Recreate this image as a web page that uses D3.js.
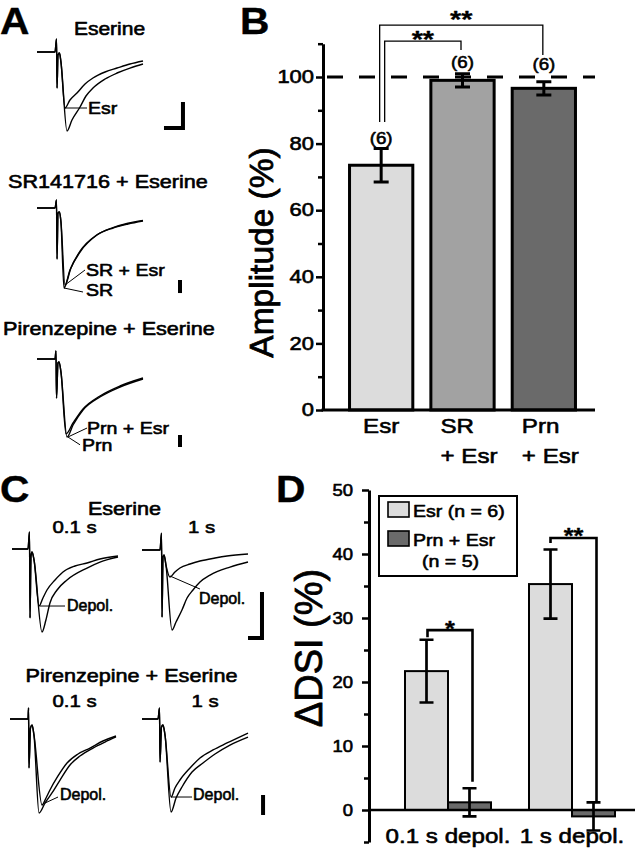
<!DOCTYPE html>
<html><head><meta charset="utf-8">
<script src="https://cdn.jsdelivr.net/npm/d3@7"></script>
<style>html,body{margin:0;padding:0;background:#fff}svg{display:block}</style>
</head><body><div id="chart"></div>
<script>
// ================= DATA =================
// Panel B: amplitude (% of control)
const bCategories = [["Esr"], ["SR", "+ Esr"], ["Prn", "+ Esr"]];
const bValues = [73.5, 99.0, 96.6];
const bErrors = [5.0, 2.0, 2.0];
const bN = ["(6)", "(6)", "(6)"];
const bTicks = [0, 20, 40, 60, 80, 100];
const bMinorTicks = [10, 30, 50, 70, 90, 110];
const bReference = 100;
const bSignificance = [
  {from: 0, to: 2, label: "**", level: 115.6, fromEnd: 86.5, toEnd: 106.6},
  {from: 0, to: 1, label: "**", level: 110.8, fromEnd: 86.5, toEnd: 108.1}
];

// Panel D: ΔDSI (%)
const dGroups = ["0.1 s depol.", "1 s depol."];
const dSeries = ["Esr", "Prn + Esr"];
const dLegend = [["Esr (n = 6)"], ["Prn + Esr", "(n = 5)"]];
const dEsr = [21.7, 35.3];
const dEsrErr = [4.9, 5.4];
const dPrn = [1.2, -1.0];
const dPrnErr = [2.2, 2.2];
const dTicks = [0, 10, 20, 30, 40, 50];
const dMinorTicks = [-5, 5, 15, 25, 35, 45];
const dSignificance = [
  {group: 0, label: "*", level: 28.1, leftEnd: 27.0, rightEnd: 4.4},
  {group: 1, label: "**", level: 42.5, leftEnd: 41.7, rightEnd: 1.3}
];

// Traces: [time (ms, 0-100 window), current (% of control peak)]
const a1Stim = [[0,0],[17,0],[18.4,16.5],[18.9,-45.6],[19.8,-3.8],[21.2,-1.3],[22.6,-12.7]];
const a1Control = [[28.3,-100],[33,-86],[40.6,-69.6],[46.2,-55.7],[52.8,-45.6],[64.2,-34.2],[75.5,-26.6],[87.7,-20.3],[100,-15.2]];
const a1Esr = [[26.4,-70.9],[31.1,-60.8],[37.7,-51.9],[45.3,-40.5],[52.8,-32.9],[64.2,-25.3],[75.5,-20.3],[87.7,-15.2],[100,-11.4]];

const a2Stim = [[0,0],[17,0],[18.4,10],[18.9,-63.8],[19.8,-6.3],[21.2,-5],[22.6,-17.5]];
const a2SR = [[25.5,-100],[31.1,-77.5],[40.6,-55],[56.6,-33.8],[71.7,-25],[85.8,-20],[100,-16.3]];
const a2SREsr = [[26.4,-96.3],[32,-75],[40.6,-54],[56.6,-33.5],[71.7,-24.5],[85.8,-19],[100,-15.5]];

const a3Stim = [[0,0],[17,0],[17.9,10.3],[18.4,-50],[19.8,-5],[20.8,-3.8],[22.6,-16.7]];
const a3Prn = [[28.3,-100],[34,-84.6],[43.4,-65.4],[59.4,-48.7],[78.3,-35.9],[100,-25.6]];
const a3PrnEsr = [[27.4,-96],[34,-82],[43.4,-64],[59.4,-47.4],[78.3,-34.6],[100,-24.4]];

const c1Stim = [[0,0],[15.1,0],[16.5,20.5],[17,-83],[17.9,-8.4],[18.9,-3.6],[20.8,-13.3]];
const c1Control = [[28.3,-100],[32,-85.5],[35.8,-65],[42.5,-49.4],[51.9,-37.3],[70.8,-22.9],[83,-15.7],[100,-9.6]];
const c1Depol = [[25.5,-68.7],[29.2,-59],[33,-49.4],[40.6,-37.3],[48.1,-27.7],[59.4,-20.5],[70.8,-16.9],[83,-12],[100,-8.4]];

const c2Stim = [[0,0],[17,0],[18.4,21],[18.9,-84],[19.8,-8.8],[20.8,-6.3],[22.6,-18.8]];
const c2Control = [[28.3,-100],[32.1,-90],[37.7,-75],[42.5,-60],[48.1,-50],[54.7,-40],[64.2,-31.3],[83,-21.3],[100,-15]];
const c2Depol = [[26.4,-33.8],[31.1,-27.5],[35.8,-22.5],[45.3,-17.5],[54.7,-13.8],[68.9,-10],[80.2,-7.5],[100,-5]];

const c3Stim = [[0,0],[17,0],[17.5,11.7],[17.9,-52],[19.3,-9.6],[20.8,-6.4],[22.6,-17]];
const c3Control = [[27.4,-100],[33,-89.4],[39.6,-78.7],[47.2,-64.9],[56.6,-48.9],[66,-39.4],[78.3,-30.9],[89.6,-24.5],[100,-19.1]];
const c3Depol = [[30.2,-91.5],[34,-84],[37.7,-75.5],[45.3,-60.6],[53.8,-46.8],[64.2,-37.2],[75.5,-30.9],[87.7,-23.4],[100,-18.1]];

const c4Stim = [[0,0],[15.1,0],[16.5,11.8],[17,-46.2],[18.4,-8.6],[19.8,-6.5],[21.7,-17.2]];
const c4Control = [[27.4,-100],[32.1,-85],[37.7,-73.1],[47.2,-57],[57.5,-47.3],[68.9,-37.6],[83,-28],[100,-19.4]];
const c4Depol = [[27.4,-83.9],[31.1,-74.2],[35.8,-65.6],[45.3,-52.7],[54.7,-41.9],[67,-33.3],[80.2,-25.8],[100,-15.1]];

// ================= STYLE =================
const FONT = "'Liberation Sans', Arial, Helvetica, sans-serif";
const bColors = ["#dcdcdc", "#a2a2a2", "#6a6a6a"];
const dColors = ["#dcdcdc", "#6a6a6a"];
const TSW = 0.6; // text outline for heavier scanned look

const W = 635, H = 853;
const svg = d3.select("#chart").append("svg")
  .attr("width", W).attr("height", H)
  .attr("font-family", FONT)
  .style("background", "#fff");

function txt(parent, x, y, s, o = {}) {
  return parent.append("text")
    .attr("transform", `translate(${x},${y}) scale(${o.sx ?? 1.2},1)`)
    .attr("text-anchor", o.anchor || "start")
    .attr("font-size", o.size || 18)
    .attr("font-weight", o.weight || "normal")
    .attr("fill", "#000")
    .attr("stroke", "#000").attr("stroke-width", o.sw ?? TSW)
    .attr("stroke-linejoin", "round")
    .text(s);
}

// ---------- panel letters ----------
[["A", 0, 34], ["B", 240, 34], ["C", 0, 502], ["D", 276, 502]].forEach(([l, x, y]) =>
  txt(svg, x, y, l, {size: 37, weight: "bold", sx: 1.1, sw: 0.4}));

// ---------- trace panels ----------
function tracePanel(cfg) {
  const g = svg.append("g");
  const xs = d3.scaleLinear().domain([0, 100]).range([cfg.x0, cfg.x0 + 106]);
  const ys = d3.scaleLinear().domain([0, -100]).range([cfg.base, cfg.base + cfg.depth]);
  const line = d3.line().x(d => xs(d[0])).y(d => ys(d[1])).curve(d3.curveMonotoneX);
  cfg.traces.forEach(tr => {
    g.append("path").attr("d", line(cfg.stim.concat(tr)))
      .attr("fill", "none").attr("stroke", "#000").attr("stroke-width", 1.4)
      .attr("stroke-linejoin", "round");
  });
  cfg.leaders.forEach(ld => {
    g.append("line")
      .attr("x1", xs(ld.from[0])).attr("y1", ys(ld.from[1]))
      .attr("x2", xs(ld.to[0])).attr("y2", ys(ld.to[1]))
      .attr("stroke", "#000").attr("stroke-width", 1);
    txt(g, xs(ld.to[0]) + ld.dx, ys(ld.to[1]) + ld.dy, ld.text, {size: ld.size, sx: ld.sx});
  });
  if (cfg.bar) {
    const b = cfg.bar;
    let d = `M${xs(b.t)},${ys(b.v + b.dv)}V${ys(b.v)}`;
    if (b.dt) d += `H${xs(b.t - b.dt)}`;
    g.append("path").attr("d", d).attr("fill", "none")
      .attr("stroke", "#000").attr("stroke-width", 4);
  }
}

tracePanel({x0: 37, base: 52, depth: 79, stim: a1Stim, traces: [a1Control, a1Esr],
  leaders: [{from: [26.4, -70.9], to: [47.2, -70.9], text: "Esr", dx: 1, dy: 5.5, size: 17, sx: 1.15}],
  bar: {t: 137.7, v: -96.2, dv: 32.9, dt: 17.9}});
tracePanel({x0: 37, base: 208, depth: 80, stim: a2Stim, traces: [a2SR, a2SREsr],
  leaders: [{from: [26.4, -96.3], to: [45.3, -77.5], text: "SR + Esr", dx: 1, dy: 5.5, size: 17, sx: 1.15},
            {from: [25.5, -100], to: [43.4, -105], text: "SR", dx: 3, dy: 3.5, size: 17, sx: 1.15}],
  bar: {t: 134.9, v: -106.3, dv: 16.3}});
tracePanel({x0: 37, base: 359, depth: 78, stim: a3Stim, traces: [a3Prn, a3PrnEsr],
  leaders: [{from: [29.2, -100], to: [47.2, -88.5], text: "Prn + Esr", dx: 0, dy: 5.5, size: 17, sx: 1.15},
            {from: [29.2, -100], to: [40.6, -110], text: "Prn", dx: 2, dy: 6, size: 17, sx: 1.15}],
  bar: {t: 134.9, v: -112.8, dv: 15.4}});
tracePanel({x0: 12, base: 549, depth: 83, stim: c1Stim, traces: [c1Control, c1Depol],
  leaders: [{from: [26.4, -68.7], to: [50, -68.7], text: "Depol.", dx: 2, dy: 5, size: 16, sx: 1.0}]});
tracePanel({x0: 142, base: 550, depth: 80, stim: c2Stim, traces: [c2Control, c2Depol],
  leaders: [{from: [26.4, -32.5], to: [54.7, -48.8], text: "Depol.", dx: -1, dy: 15, size: 16, sx: 1.0}],
  bar: {t: 113.2, v: -110, dv: 57.5, dt: 13.2}});
tracePanel({x0: 10, base: 719, depth: 94, stim: c3Stim, traces: [c3Control, c3Depol],
  leaders: [{from: [33, -89.4], to: [45.3, -83], text: "Depol.", dx: 2, dy: 3, size: 16, sx: 1.0}]});
tracePanel({x0: 142, base: 719, depth: 93, stim: c4Stim, traces: [c4Control, c4Depol],
  leaders: [{from: [27.4, -83.9], to: [47.2, -83.9], text: "Depol.", dx: 1, dy: 3, size: 16, sx: 1.0}],
  bar: {t: 114.2, v: -103.2, dv: 21.5}});

// trace panel titles
txt(svg, 109.5, 35, "Eserine", {anchor: "middle", size: 17.5});
txt(svg, 8, 188, "SR141716 + Eserine", {size: 18});
txt(svg, 3, 335, "Pirenzepine + Eserine", {size: 18});
txt(svg, 124.5, 515, "Eserine", {anchor: "middle", size: 18});
txt(svg, 74.5, 533, "0.1 s", {anchor: "middle", size: 17});
txt(svg, 201.5, 533, "1 s", {anchor: "middle", size: 17});
txt(svg, 131.5, 682, "Pirenzepine + Eserine", {anchor: "middle", size: 18});
txt(svg, 74.5, 707, "0.1 s", {anchor: "middle", size: 17});
txt(svg, 205, 707, "1 s", {anchor: "middle", size: 17});

// ================= PANEL B =================
const gB = svg.append("g");
const yB = d3.scaleLinear().domain([0, 110]).range([410, 43.7]);
const xB = d3.scaleBand().domain(d3.range(bValues.length)).range([340.5, 584.5])
  .paddingInner(0.222).paddingOuter(0.111);
const cxB = i => xB(i) + xB.bandwidth() / 2;
const axXB = 323;

// reference dashed line
gB.append("line").attr("x1", 327).attr("x2", 595)
  .attr("y1", yB(bReference)).attr("y2", yB(bReference))
  .attr("stroke", "#000").attr("stroke-width", 3).attr("stroke-dasharray", "16,16");

// bars
gB.selectAll("rect.bar").data(bValues).join("rect").attr("class", "bar")
  .attr("x", (d, i) => xB(i)).attr("width", xB.bandwidth())
  .attr("y", d => yB(d)).attr("height", d => yB(0) - yB(d))
  .attr("fill", (d, i) => bColors[i]).attr("stroke", "#000").attr("stroke-width", 3);

// error bars
bValues.forEach((v, i) => {
  const cx = cxB(i), e = bErrors[i];
  const d = `M${cx},${yB(v - e)}V${yB(v + e)}M${cx - 7.5},${yB(v + e)}H${cx + 7.5}M${cx - 7.5},${yB(v - e)}H${cx + 7.5}`;
  gB.append("path").attr("d", d).attr("stroke", "#000").attr("stroke-width", 3).attr("fill", "none");
});

// n labels
const nOffsets = [-5, -5.5, -11.5];
bValues.forEach((v, i) => txt(gB, cxB(i), yB(v + bErrors[i]) + nOffsets[i], bN[i], {anchor: "middle", size: 17, sx: 1.1}));

// significance brackets
const bSigOff = [[-1.5, -1, 2.5], [3.5, -1.5, 6.5]];
bSignificance.forEach((s, k) => {
  const lx = cxB(s.from) + bSigOff[k][0], rx = cxB(s.to) + bSigOff[k][1];
  gB.append("path")
    .attr("d", `M${lx},${yB(s.fromEnd)}V${yB(s.level)}H${rx}V${yB(s.toEnd)}`)
    .attr("fill", "none").attr("stroke", "#000").attr("stroke-width", 1.3);
  txt(gB, (lx + rx) / 2, yB(s.level) + bSigOff[k][2], s.label, {anchor: "middle", size: 24, weight: "bold", sx: 1.2, sw: 0.3});
});

// axes
const axB = gB.append("g").attr("transform", `translate(${axXB},0)`)
  .call(d3.axisLeft(yB).tickValues(bTicks).tickSize(7).tickSizeOuter(0).tickPadding(2).tickFormat(d3.format("d")));
axB.select(".domain").attr("stroke-width", 3);
axB.selectAll(".tick line").attr("stroke-width", 2.5);
axB.selectAll(".tick text").attr("font-size", 18).attr("font-family", FONT)
  .attr("transform", "scale(1.22,1)").attr("x", -9 / 1.22)
  .attr("stroke", "#000").attr("stroke-width", TSW);
const axBm = gB.append("g").attr("transform", `translate(${axXB},0)`)
  .call(d3.axisLeft(yB).tickValues(bMinorTicks).tickSize(5).tickSizeOuter(0).tickFormat(""));
axBm.select(".domain").remove();
axBm.selectAll(".tick line").attr("stroke-width", 2.5);

gB.append("line").attr("x1", axXB - 1.5).attr("x2", 595).attr("y1", yB(0)).attr("y2", yB(0))
  .attr("stroke", "#000").attr("stroke-width", 3);

bCategories.forEach((lines, i) => {
  if (lines.length === 1) {
    txt(gB, cxB(i), 433, lines[0], {anchor: "middle", size: 21, sx: 1.15});
  } else {
    lines.forEach((l, j) => txt(gB, cxB(i) - 22, 433 + j * 30, l, {size: 21, sx: 1.15}));
  }
});

gB.append("text").attr("transform", "translate(273,252.5) rotate(-90)")
  .attr("text-anchor", "middle").attr("font-size", 33.5)
  .attr("stroke", "#000").attr("stroke-width", 0.8)
  .text("Amplitude (%)");

// ================= PANEL D =================
const gD = svg.append("g");
const yD = d3.scaleLinear().domain([-5, 50]).range([842, 490]);
const xD = d3.scaleBand().domain(dGroups).range([386, 634]);
const bw = xD.bandwidth();
const xDs = d3.scaleBand().domain(dSeries).range([bw / 2 - 43, bw / 2 + 43]);
const axXD = 369;

const seriesVals = [dEsr, dPrn], seriesErr = [dEsrErr, dPrnErr];
const centerD = (gi, si) => xD(dGroups[gi]) + xDs(dSeries[si]) + xDs.bandwidth() / 2;

dSeries.forEach((s, si) => {
  gD.selectAll(`rect.s${si}`).data(seriesVals[si]).join("rect").attr("class", `s${si}`)
    .attr("x", (d, gi) => xD(dGroups[gi]) + xDs(s))
    .attr("width", xDs.bandwidth())
    .attr("y", d => yD(Math.max(0, d)))
    .attr("height", d => Math.abs(yD(d) - yD(0)))
    .attr("fill", dColors[si]).attr("stroke", "#000").attr("stroke-width", 2);
});

// zero axis line
gD.append("line").attr("x1", axXD).attr("x2", W).attr("y1", yD(0)).attr("y2", yD(0))
  .attr("stroke", "#000").attr("stroke-width", 2.5);

dSeries.forEach((s, si) => {
  seriesVals[si].forEach((v, gi) => {
    const cx = centerD(gi, si), e = seriesErr[si][gi];
    const d = `M${cx},${yD(v - e)}V${yD(v + e)}M${cx - 7},${yD(v + e)}H${cx + 7}M${cx - 7},${yD(v - e)}H${cx + 7}`;
    gD.append("path").attr("d", d).attr("stroke", "#000").attr("stroke-width", 2.7).attr("fill", "none");
  });
});

// significance
const dSigOff = [[1, 3, 6], [0, 3, 5]];
dSignificance.forEach((s, k) => {
  const lx = centerD(s.group, 0) + dSigOff[k][0], rx = centerD(s.group, 1) + dSigOff[k][1];
  gD.append("path")
    .attr("d", `M${lx},${yD(s.leftEnd)}V${yD(s.level)}H${rx}V${yD(s.rightEnd)}`)
    .attr("fill", "none").attr("stroke", "#000").attr("stroke-width", 2.6);
  txt(gD, (lx + rx) / 2, yD(s.level) + dSigOff[k][2], s.label, {anchor: "middle", size: 22, weight: "bold", sx: 1.15, sw: 0.3});
});

// axes D
const axD = gD.append("g").attr("transform", `translate(${axXD},0)`)
  .call(d3.axisLeft(yD).tickValues(dTicks).tickSize(7).tickSizeOuter(0).tickPadding(9).tickFormat(d3.format("d")));
axD.select(".domain").attr("stroke-width", 3);
axD.selectAll(".tick line").attr("stroke-width", 2.5);
axD.selectAll(".tick text").attr("font-size", 16.5).attr("font-family", FONT)
  .attr("transform", "scale(1.12,1)").attr("x", -16 / 1.12)
  .attr("stroke", "#000").attr("stroke-width", TSW);
const axDm = gD.append("g").attr("transform", `translate(${axXD},0)`)
  .call(d3.axisLeft(yD).tickValues(dMinorTicks).tickSize(5).tickSizeOuter(0).tickFormat(""));
axDm.select(".domain").remove();
axDm.selectAll(".tick line").attr("stroke-width", 2.5);

dGroups.forEach(gname => txt(gD, xD(gname) + bw / 2, 843, gname, {anchor: "middle", size: 21, sx: 1.15}));

gD.append("text").attr("transform", "translate(322,648) rotate(-90)")
  .attr("text-anchor", "middle").attr("font-size", 38)
  .attr("stroke", "#000").attr("stroke-width", 0.8)
  .text("ΔDSI (%)");

// legend
const lg = gD.append("g");
lg.append("rect").attr("x", 379).attr("y", 496).attr("width", 138).attr("height", 80)
  .attr("fill", "#fff").attr("stroke", "#000").attr("stroke-width", 2);
dLegend.forEach((lines, si) => {
  const y0 = 502 + si * 29;
  lg.append("rect").attr("x", 388).attr("y", y0).attr("width", 21).attr("height", 15)
    .attr("fill", dColors[si]).attr("stroke", "#000").attr("stroke-width", 1.6);
  txt(lg, 413, y0 + 15, lines[0], {size: 17, sx: 1.15});
  if (lines[1]) txt(lg, 450.5, y0 + 36, lines[1], {anchor: "middle", size: 17, sx: 1.15});
});
</script>
</body></html>
